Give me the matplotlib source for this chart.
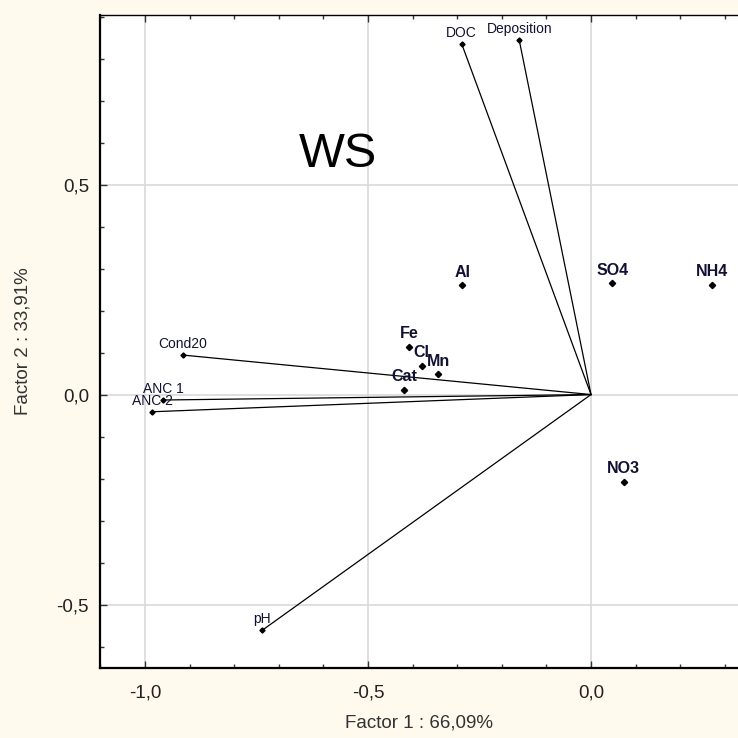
import matplotlib.pyplot as plt
from matplotlib.ticker import MultipleLocator, FuncFormatter

plt.rcParams['font.family'] = ['Liberation Sans', 'DejaVu Sans']

# variables drawn as vectors from the origin
vec_names = ['DOC', 'Deposition', 'Cond20', 'ANC 1', 'ANC 2', 'pH']
vec_f1 = [-0.290, -0.161, -0.915, -0.960, -0.984, -0.737]
vec_f2 = [0.835, 0.844, 0.094, -0.013, -0.041, -0.561]

# supplementary variables drawn as points only
pt_names = ['Al', 'Fe', 'Cl', 'Mn', 'Cat', 'SO4', 'NH4', 'NO3']
pt_f1 = [-0.289, -0.408, -0.380, -0.342, -0.419, 0.048, 0.272, 0.073]
pt_f2 = [0.260, 0.114, 0.068, 0.048, 0.011, 0.265, 0.261, -0.208]

xlabel = 'Factor 1 : 66,09%'
ylabel = 'Factor 2 : 33,91%'
title = 'WS'

bg = '#fff9ee'
fig = plt.figure(figsize=(7.38, 7.38), dpi=100, facecolor=bg)
ax = fig.add_axes([100/738, 70/738, 638/738, 653/738])
ax.set_facecolor('white')

ax.set_xlim(-1.101, 0.3296)
ax.set_ylim(-0.651, 0.9036)

ax.xaxis.set_major_locator(MultipleLocator(0.5))
ax.xaxis.set_minor_locator(MultipleLocator(0.1))
ax.yaxis.set_major_locator(MultipleLocator(0.5))
ax.yaxis.set_minor_locator(MultipleLocator(0.1))
fmt = FuncFormatter(lambda v, p: ('%.1f' % v).replace('.', ','))
ax.xaxis.set_major_formatter(fmt)
ax.yaxis.set_major_formatter(fmt)

ax.grid(True, which='major', color='#dcdcdc', linewidth=1.3, zorder=0)
ax.tick_params(which='both', direction='in', top=True, right=False, colors='#333333',
               labelsize=13.5, labelcolor='#222222')
ax.tick_params(axis='x', which='major', length=5, width=1, pad=12)
ax.tick_params(axis='y', which='major', length=5, width=1, pad=8)
ax.tick_params(which='minor', length=3, width=1)

for s in ['left', 'bottom']:
    ax.spines[s].set_linewidth(1.6)
    ax.spines[s].set_color('black')
ax.spines['top'].set_linewidth(1.0)
ax.spines['right'].set_visible(False)

# loading vectors
for name, x, y in zip(vec_names, vec_f1, vec_f2):
    ax.plot([0, x], [0, y], color='black', linewidth=0.9, zorder=3)
    ax.plot(x, y, marker='D', markersize=2.6, color='black', zorder=4)
    ax.annotate(name, (x, y), xytext=(0, 8), textcoords='offset points',
                ha='center', va='center', fontsize=10, color='#111133', zorder=5)

# point variables
ax.plot(pt_f1, pt_f2, linestyle='none', marker='D', markersize=3.2, color='black', zorder=4)
for name, x, y in zip(pt_names, pt_f1, pt_f2):
    ax.annotate(name, (x, y), xytext=(0, 9.5), textcoords='offset points',
                ha='center', va='center', fontsize=11.5, fontweight='bold',
                color='#111133', zorder=5)

ax.text(0.373, 0.786, title, transform=ax.transAxes, ha='center', va='center',
        fontsize=35, color='black')

ax.set_xlabel(xlabel, fontsize=13.5, color='#333333', labelpad=9)
ax.set_ylabel(ylabel, fontsize=13.5, color='#333333', labelpad=18)

fig.savefig('out.png', dpi=100, facecolor=bg)
